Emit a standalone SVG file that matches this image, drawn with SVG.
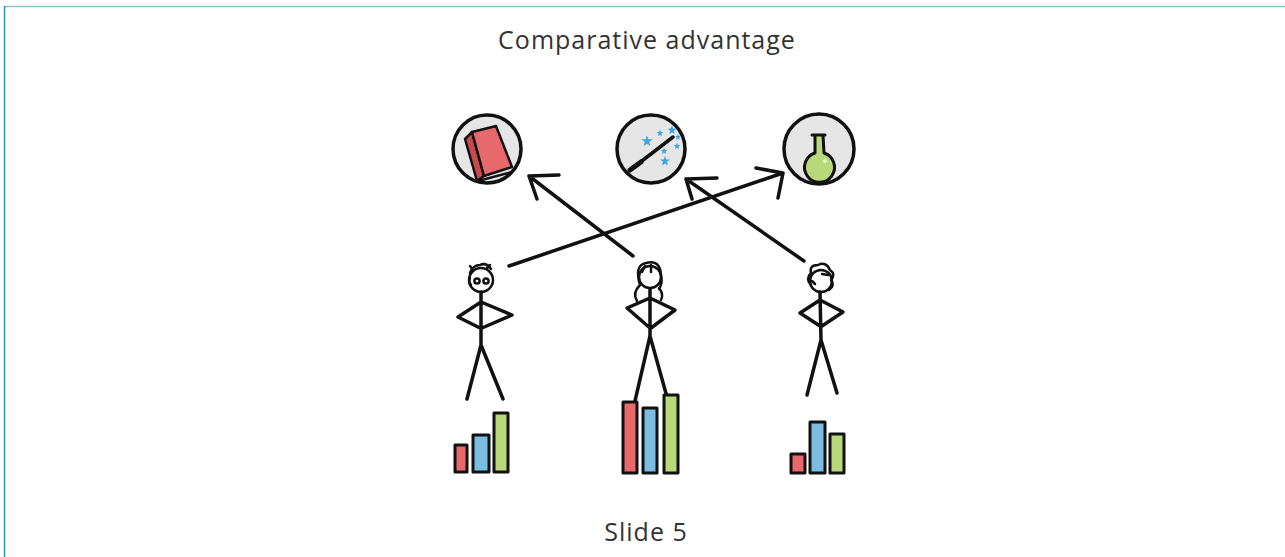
<svg xmlns="http://www.w3.org/2000/svg" width="1285" height="557" viewBox="0 0 1285 557">
  <style>
    .ink { fill: none; stroke: #111; stroke-width: 3.5; stroke-linecap: round; stroke-linejoin: round; }
    .thin { fill: none; stroke: #111; stroke-width: 2.5; stroke-linecap: round; stroke-linejoin: round; }
    .badge { fill: #e6e6e6; stroke: #111; stroke-width: 3.5; }
    .bar { stroke: #111; stroke-width: 3; stroke-linejoin: round; }
    .red { fill: #e8696b; }
    .blue { fill: #7bbde0; }
    .green { fill: #b9d87a; }
    .label { font-family: "Open Sans", "Liberation Sans", sans-serif; fill: #333; text-anchor: middle; letter-spacing: 1px; }
    .star { fill: #3aa5e0; }
  </style>
  <defs>
    <polygon id="star" points="0,-5 1.3,-1.6 5,-1.5 2,0.8 3,4.5 0,2.4 -3,4.5 -2,0.8 -5,-1.5 -1.3,-1.6"/>
  </defs>

  <rect width="1285" height="557" fill="#ffffff"/>
  <!-- frame -->
  <line x1="4" y1="6.5" x2="1285" y2="6.5" stroke="#8cc4c8" stroke-width="1.5"/>
  <line x1="4.5" y1="6" x2="4.5" y2="557" stroke="#1e9aa4" stroke-width="1.5"/>

  <text class="label" x="647" y="49" font-size="25">Comparative advantage</text>
  <text class="label" x="646" y="541" font-size="25">Slide 5</text>

  <!-- book badge -->
  <g id="book">
    <circle class="badge" cx="487" cy="149" r="34"/>
    <polygon points="465,139 472,132 484,176 477,181" fill="#c94a4c" stroke="#111" stroke-width="2.5" stroke-linejoin="round"/>
    <polygon points="472,132 496,126 512,167 484,176" class="red" stroke="#111" stroke-width="2.5" stroke-linejoin="round"/>
    <path class="thin" d="M478,181 L512,172"/>
  </g>

  <!-- wand badge -->
  <g id="wand">
    <circle class="badge" cx="651" cy="149" r="34"/>
    <path d="M634,167 L673,137" stroke="#111" stroke-width="3.5" stroke-linecap="round"/>
    <path d="M630,170 L641,162" stroke="#111" stroke-width="5" stroke-linecap="round"/>
    <use href="#star" class="star" transform="translate(647 141) scale(1.1)"/>
    <use href="#star" class="star" transform="translate(660 133) scale(0.7)"/>
    <use href="#star" class="star" transform="translate(672 130) scale(0.9)"/>
    <use href="#star" class="star" transform="translate(664 151) scale(0.7)"/>
    <use href="#star" class="star" transform="translate(665 161) scale(1)"/>
    <use href="#star" class="star" transform="translate(677 146) scale(0.7)"/>
    <use href="#star" class="star" transform="translate(678 137) scale(0.6)"/>
  </g>

  <!-- flask badge -->
  <g id="flask">
    <circle class="badge" cx="819" cy="149" r="35"/>
    <path d="M812,135 L825,135 M815,135 L815,153 A15,15 0 1 0 824,153 L823,135" class="green" stroke="#111" stroke-width="3" stroke-linejoin="round" stroke-linecap="round"/>
    <circle cx="825" cy="161" r="2" fill="#e8f3d0"/>
  </g>

  <!-- arrows from people to skills -->
  <g id="connectors" class="ink">
    <path d="M633,256 L529,176 M529,176 L559,175 M529,176 L537,199"/>
    <path d="M509,266 L783,173 M783,173 L756,168 M783,173 L778,198"/>
    <path d="M804,261 L686,179 M686,179 L717,178 M686,179 L692,199"/>
  </g>

  <!-- person 1 -->
  <g id="person-left">
    <circle class="thin" cx="481" cy="280" r="12"/>
    <path class="thin" d="M470,273 q3,-8 10,-8 q6,-3 11,4 M473,270 l-3,-4 M487,268 l3,-3 M470,278 q-2,4 1,7"/>
    <circle class="thin" cx="477" cy="281" r="2.6"/>
    <circle class="thin" cx="486" cy="281" r="2.6"/>
    <path class="ink" d="M481,292 L481,345 M481,302 L458,317 L480,328 M481,302 L512,315 L482,328 M481,345 L467,399 M481,345 L503,399"/>
  </g>
  <g id="bars-left">
    <rect class="bar red" x="455" y="445" width="12" height="27"/>
    <rect class="bar blue" x="473" y="435" width="16" height="37"/>
    <rect class="bar green" x="494" y="413" width="14" height="59"/>
  </g>

  <!-- person 2 -->
  <g id="person-middle">
    <circle class="thin" cx="650" cy="277" r="11"/>
    <path class="thin" d="M640,285 q-6,-20 6,-22 q14,-4 15,12 q2,8 -2,14 M640,285 q-8,8 -3,16 M659,288 q5,6 2,12 M645,266 l-3,6 M651,265 l0,7"/>
    <path class="ink" d="M650,289 L650,336 M650,298 L627,308 L650,328 M650,298 L675,310 L651,328 M650,336 L635,401 M650,336 L667,397"/>
  </g>
  <g id="bars-middle">
    <rect class="bar red" x="623" y="402" width="14" height="71"/>
    <rect class="bar blue" x="643" y="408" width="14" height="65"/>
    <rect class="bar green" x="664" y="395" width="14" height="78"/>
  </g>

  <!-- person 3 -->
  <g id="person-right">
    <circle class="thin" cx="821" cy="281" r="11"/>
    <path class="thin" d="M811,285 q-6,-6 0,-12 q-2,-8 7,-8 q8,-4 12,5 q6,4 1,10 q4,6 -2,10 M812,281 l3,3 M822,274 l6,1"/>
    <path class="ink" d="M820,292 L821,340 M820,300 L800,313 L820,326 M820,300 L843,312 L822,326 M821,340 L807,395 M821,340 L837,393"/>
  </g>
  <g id="bars-right">
    <rect class="bar red" x="791" y="454" width="14" height="19"/>
    <rect class="bar blue" x="810" y="422" width="15" height="51"/>
    <rect class="bar green" x="830" y="434" width="14" height="39"/>
  </g>
</svg>
